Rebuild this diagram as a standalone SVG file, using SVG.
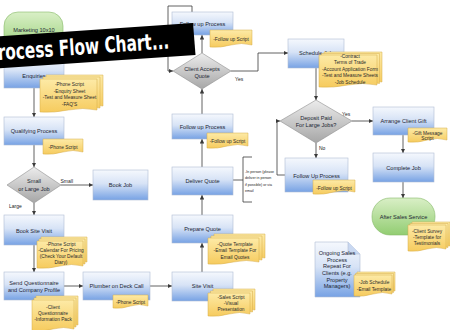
<svg xmlns="http://www.w3.org/2000/svg" xmlns:xlink="http://www.w3.org/1999/xlink" width="450" height="330" viewBox="0 0 450 330">
<style>
.box{fill:url(#gB);stroke:#aebdd3;stroke-width:.6}
.dia{fill:url(#gG);stroke:#8e8e8e;stroke-width:.6}
.term{fill:url(#gGr);stroke:#86b86a;stroke-width:.6}
.note{fill:url(#gY);stroke:#d6ad4a;stroke-width:.5}
.t{font-family:"Liberation Sans",Arial,sans-serif;font-size:5.6px;fill:#1c2533;text-anchor:middle}
.n{font-family:"Liberation Sans",Arial,sans-serif;font-size:4.8px;fill:#2a2a2a;text-anchor:middle}
.l{font-family:"Liberation Sans",Arial,sans-serif;font-size:5px;fill:#222}
.b{font-family:"Liberation Sans",Arial,sans-serif;font-size:3.6px;fill:#222}
.c{fill:none;stroke:#3a3a3a;stroke-width:.8;marker-end:url(#ah)}
.p{fill:none;stroke:#3a3a3a;stroke-width:.8}
</style>
<defs>
<linearGradient id="gB" x1="0" y1="0" x2="0" y2="1"><stop offset="0" stop-color="#f5f8fd"/><stop offset=".45" stop-color="#d7e3f6"/><stop offset="1" stop-color="#77a2e4"/></linearGradient>
<linearGradient id="gG" x1="0" y1="0" x2="0" y2="1"><stop offset="0" stop-color="#ececec"/><stop offset="1" stop-color="#a6a6a6"/></linearGradient>
<linearGradient id="gGr" x1="0" y1="0" x2="0" y2="1"><stop offset="0" stop-color="#d9efc6"/><stop offset="1" stop-color="#92cd72"/></linearGradient>
<linearGradient id="gY" x1="0" y1="0" x2="0" y2="1"><stop offset="0" stop-color="#fdeaa6"/><stop offset="1" stop-color="#f6cb5e"/></linearGradient>
<marker id="ah" viewBox="0 0 6 6" refX="6" refY="3" markerWidth="4.5" markerHeight="4.5" markerUnits="userSpaceOnUse" orient="auto"><path d="M0,0L6,3L0,6z" fill="#3a3a3a"/></marker>
<path id="n1" class="note" d="M0,0H57V31Q42.75,28 28.5,31T0,33Z"/>
<path id="n2" class="note" d="M0,0H40V13Q30,10 20,13T0,15Z"/>
<path id="n3" class="note" d="M0,0H46V25Q34.5,22 23,25T0,27Z"/>
<path id="n4" class="note" d="M0,0H42V29Q31.5,26 21,29T0,31Z"/>
<path id="n5" class="note" d="M0,0H35V11Q26.25,8 17.5,11T0,13Z"/>
<path id="n6" class="note" d="M0,0H42V21Q31.5,18 21,21T0,23Z"/>
<path id="n7" class="note" d="M0,0H51V24Q38.25,21 25.5,24T0,26Z"/>
<path id="n8" class="note" d="M0,0H41V13Q30.75,10 20.5,13T0,15Z"/>
<path id="n9" class="note" d="M0,0H42V15Q31.5,12 21,15T0,17Z"/>
<path id="n10" class="note" d="M0,0H58V30Q43.5,27 29,30T0,32Z"/>
<path id="n11" class="note" d="M0,0H42V12Q31.5,9 21,12T0,14Z"/>
<path id="n12" class="note" d="M0,0H39V12Q29.25,9 19.5,12T0,14Z"/>
<path id="n13" class="note" d="M0,0H38V24Q28.5,21 19,24T0,26Z"/>
<path id="n14" class="note" d="M0,0H38V19Q28.5,16 19,19T0,21Z"/>
</defs>
<rect width="450" height="330" fill="#ffffff"/>

<g id="connectors">
<path class="c" d="M34,88V117"/>
<path class="c" d="M34,145V167"/>
<path class="c" d="M61,185H93"/>
<path class="c" d="M34,203V215"/>
<path class="c" d="M34,245V272"/>
<path class="c" d="M64,286H83"/>
<path class="c" d="M150,286H172"/>
<path class="c" d="M202,272V243"/>
<path class="c" d="M202,215V195"/>
<path class="c" d="M202,167V139"/>
<path class="c" d="M202,114V89"/>
<path class="c" d="M202,53V35"/>
<path class="c" d="M192,12V6H168V71H173"/>
<path class="c" d="M231,71H258V53H288"/>
<path class="c" d="M316,68V100"/>
<path class="c" d="M352,121H373"/>
<path class="c" d="M316,143V158"/>
<path class="c" d="M285,175H277V121H280"/>
<path class="c" d="M403,135V153"/>
<path class="c" d="M403,182V198"/>
<path class="p" d="M233,180H243M252,157H243V202H252"/>
</g>

<g id="labels">
<text class="l" x="60.5" y="183">Small</text>
<text class="l" x="9" y="207.5">Large</text>
<text class="l" x="235" y="80.5">Yes</text>
<text class="l" x="342" y="115.5">Yes</text>
<text class="l" x="319" y="149.5">No</text>
<text class="b" x="245" y="172.5">-In person (please</text>
<text class="b" x="245" y="179">deliver in person</text>
<text class="b" x="245" y="185.5">if possible) or via</text>
<text class="b" x="245" y="192">email</text>
</g>

<g id="marketing">
<rect class="term" x="4" y="12" width="59" height="42" rx="14"/>
<text class="t" x="34" y="32">Marketing 10x10</text>
</g>
<g id="enquiries">
<rect class="box" x="4" y="56" width="60" height="32"/>
<text class="t" x="34" y="78">Enquiries</text>
<use href="#n1" x="46" y="75"/><use href="#n1" x="43" y="77"/><use href="#n1" x="40" y="79"/>
<text class="n" x="69.5" y="86">-Phone Script</text>
<text class="n" x="69.5" y="92.5">-Enquiry Sheet</text>
<text class="n" x="69.5" y="99">-Test and Measure Sheet</text>
<text class="n" x="69.5" y="105.5">-FAQ'S</text>
</g>
<g id="qualifying">
<rect class="box" x="4" y="117" width="60" height="28"/>
<text class="t" x="34" y="133">Qualifying Process</text>
<use href="#n2" x="43" y="139"/>
<text class="n" x="63" y="148.5">-Phone Script</text>
</g>
<g id="smallLarge">
<polygon class="dia" points="7,185 34,167 61,185 34,203"/>
<text class="t" x="34" y="182.5">Small</text>
<text class="t" x="34" y="190.5">or Large Job</text>
</g>
<g id="bookJob">
<rect class="box" x="93" y="170" width="55" height="30"/>
<text class="t" x="120.5" y="187">Book Job</text>
</g>
<g id="bookSiteVisit">
<rect class="box" x="4" y="215" width="60" height="30"/>
<text class="t" x="34" y="233">Book Site Visit</text>
<use href="#n3" x="41" y="237"/><use href="#n3" x="39" y="239"/><use href="#n3" x="37" y="241"/>
<text class="n" x="61" y="245.5">-Phone Script</text>
<text class="n" x="61" y="251.5">-Calendar For Pricing</text>
<text class="n" x="61" y="257.5">(Check Your Default</text>
<text class="n" x="61" y="263.5">Diary)</text>
</g>
<g id="sendQuestionnaire">
<rect class="box" x="4" y="272" width="60" height="28"/>
<text class="t" x="34" y="285">Send Questionnaire</text>
<text class="t" x="34" y="292">and Company Profile</text>
<use href="#n4" x="36" y="296"/><use href="#n4" x="34" y="298"/><use href="#n4" x="32" y="300"/>
<text class="n" x="53" y="308.5">-Client</text>
<text class="n" x="53" y="315">Questionnaire</text>
<text class="n" x="53" y="321">-Information Pack</text>
</g>
<g id="plumber">
<rect class="box" x="83" y="272" width="67" height="28"/>
<text class="t" x="116.5" y="288">Plumber on Deck Call</text>
<use href="#n5" x="113" y="295"/>
<text class="n" x="130.5" y="304">-Phone Script</text>
</g>
<g id="siteVisit">
<rect class="box" x="172" y="272" width="61" height="29"/>
<text class="t" x="202.5" y="288">Site Visit</text>
<use href="#n6" x="213" y="289"/><use href="#n6" x="210.5" y="291"/><use href="#n6" x="208" y="293"/>
<text class="n" x="231" y="298.5">-Sales Script</text>
<text class="n" x="231" y="305">-Visual</text>
<text class="n" x="231" y="311">Presentation</text>
</g>
<g id="prepareQuote">
<rect class="box" x="172" y="215" width="61" height="28"/>
<text class="t" x="202.5" y="231">Prepare Quote</text>
<use href="#n7" x="214" y="234"/><use href="#n7" x="211" y="236"/><use href="#n7" x="208" y="238"/>
<text class="n" x="235" y="245.5">-Quote Template</text>
<text class="n" x="235" y="252">-Email Template For</text>
<text class="n" x="235" y="258.5">Email Quotes</text>
</g>
<g id="deliverQuote">
<rect class="box" x="172" y="167" width="61" height="28"/>
<text class="t" x="202.5" y="183">Deliver Quote</text>
</g>
<g id="followUpMid">
<rect class="box" x="172" y="114" width="61" height="25"/>
<text class="t" x="202.5" y="129">Follow up Process</text>
<use href="#n8" x="207" y="133"/>
<text class="n" x="227.5" y="143">-Follow up Script</text>
</g>
<g id="clientAccepts">
<polygon class="dia" points="173,71 202,53 231,71 202,89"/>
<text class="t" x="202" y="70.5">Client Accepts</text>
<text class="t" x="202" y="77.5">Quote</text>
</g>
<g id="followUpTop">
<rect class="box" x="172" y="12" width="61" height="23"/>
<text class="t" x="202.5" y="26">Follow up Process</text>
<use href="#n9" x="210" y="30"/>
<text class="n" x="231" y="40.5">-Follow up Script</text>
</g>
<g id="scheduleJob">
<rect class="box" x="288" y="39" width="56" height="29"/>
<text class="t" x="316" y="54.5">Schedule Job</text>
<use href="#n10" x="324" y="52"/><use href="#n10" x="321.5" y="53.5"/><use href="#n10" x="319" y="55"/>
<text class="n" x="350" y="57.5">-Contract</text>
<text class="n" x="350" y="64">Terms of Trade</text>
<text class="n" x="350" y="70.5">-Account Application Form</text>
<text class="n" x="350" y="77">-Test and Measure Sheets</text>
<text class="n" x="350" y="83.5">-Job Schedule</text>
</g>
<g id="deposit">
<polygon class="dia" points="280,121 316,100 352,121 316,143"/>
<text class="t" x="316" y="119.5">Deposit Paid</text>
<text class="t" x="316" y="126.5">For Large Jobs?</text>
</g>
<g id="followUpLow">
<rect class="box" x="285" y="158" width="63" height="34"/>
<text class="t" x="316.5" y="177.5">Follow Up Process</text>
<use href="#n11" x="313" y="180"/>
<text class="n" x="334" y="189.5">-Follow up Script</text>
</g>
<g id="arrangeGift">
<rect class="box" x="373" y="107" width="61" height="28"/>
<text class="t" x="403.5" y="123">Arrange Client Gift</text>
<use href="#n12" x="408" y="128"/>
<text class="n" x="427.5" y="134.5">-Gift Message</text>
<text class="n" x="427.5" y="140">Script</text>
</g>
<g id="completeJob">
<rect class="box" x="373" y="153" width="61" height="29"/>
<text class="t" x="403.5" y="169.5">Complete Job</text>
</g>
<g id="afterSales">
<rect class="term" x="372" y="198" width="63" height="37" rx="18"/>
<text class="t" x="403.5" y="218.5">After Sales Service</text>
<use href="#n13" x="412" y="222"/><use href="#n13" x="410" y="223.5"/><use href="#n13" x="408" y="225"/>
<text class="n" x="427" y="232.5">-Client Survey</text>
<text class="n" x="427" y="238.5">-Template for</text>
<text class="n" x="427" y="244.5">Testimonials</text>
</g>
<g id="ongoing">
<path class="box" d="M315,242H348L360,254V297H315Z"/>
<path d="M348,242V254H360" fill="#c9d8f1" stroke="#aebdd3" stroke-width=".6"/>
<text class="t" x="337" y="255">Ongoing Sales</text>
<text class="t" x="337" y="261.5">Process</text>
<text class="t" x="337" y="268">Repeat For</text>
<text class="t" x="337" y="275">Clients (e.g.</text>
<text class="t" x="337" y="281.5">Property</text>
<text class="t" x="337" y="288">Managers)</text>
<use href="#n14" x="357" y="272"/><use href="#n14" x="355.5" y="273.5"/><use href="#n14" x="354" y="275"/>
<text class="n" x="374" y="284">-Job Schedule</text>
<text class="n" x="374" y="290.5">-Email Template</text>
</g>

<g id="banner">
<polygon points="-5,36.5 193,23 195.5,55 -3,68.5" fill="#000"/>
<text x="-13" y="60" transform="rotate(-3.9 0 60)" textLength="183" lengthAdjust="spacingAndGlyphs" font-family="'DejaVu Sans Condensed','DejaVu Sans',sans-serif" font-weight="bold" font-size="22" fill="#ffffff">Process Flow Chart...</text>
</g>
</svg>
